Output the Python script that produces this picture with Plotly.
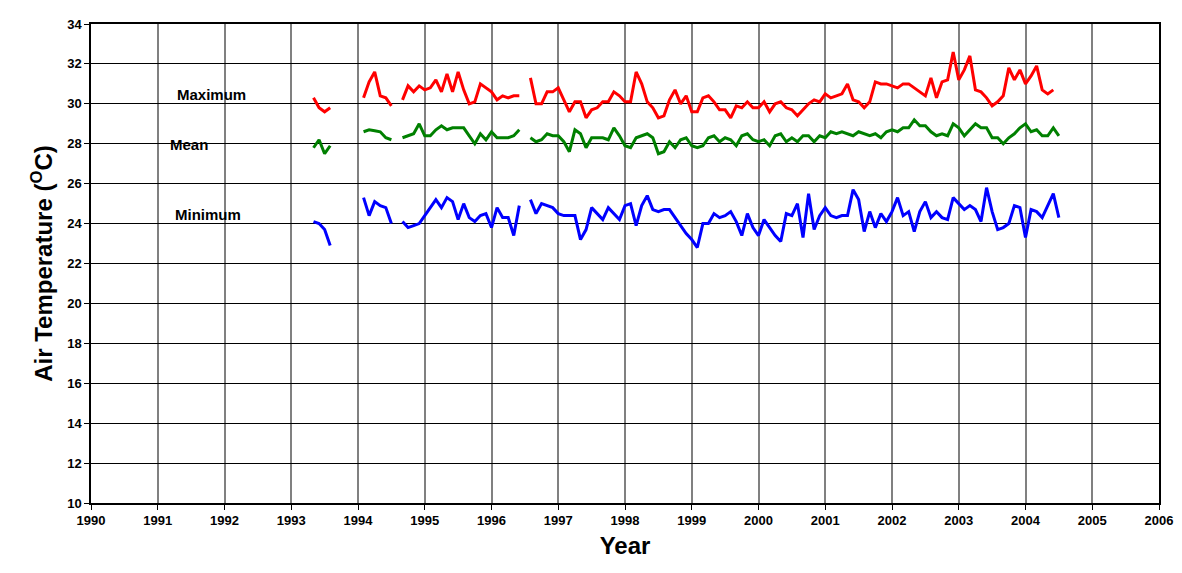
import plotly.graph_objects as go

# monthly segments: (start year, start month, values)
max_segments = [
    (1993, 5, [30.3, 29.8, 29.6, 29.8]),
    (1994, 2, [30.3, 31.1, 31.6, 30.4, 30.3, 29.9]),
    (1994, 9, [30.2, 30.9, 30.6, 30.9, 30.7, 30.8, 31.2, 30.6, 31.5, 30.6, 31.6, 30.7,
               30.0, 30.1, 31.0, 30.8, 30.6, 30.2, 30.4, 30.3, 30.4, 30.4]),
    (1996, 8, [31.3, 30.0, 30.0, 30.6, 30.6, 30.8, 30.2, 29.6, 30.1, 30.1, 29.3, 29.7,
               29.8, 30.1, 30.1, 30.6, 30.4, 30.1, 30.1, 31.6, 31.0, 30.1, 29.8, 29.3,
               29.4, 30.2, 30.7, 30.0, 30.4, 29.6, 29.6, 30.3, 30.4, 30.1, 29.7, 29.7,
               29.3, 29.9, 29.8, 30.1, 29.8, 29.8, 30.1, 29.6, 30.0, 30.1, 29.8, 29.7,
               29.4, 29.7, 30.0, 30.2, 30.1, 30.5, 30.3, 30.4, 30.5, 31.0, 30.2, 30.1,
               29.8, 30.1, 31.1, 31.0, 31.0, 30.9, 30.8, 31.0, 31.0, 30.8, 30.6, 30.4,
               31.3, 30.3, 31.1, 31.2, 32.6, 31.2, 31.7, 32.4, 30.7, 30.6, 30.3, 29.9,
               30.1, 30.4, 31.8, 31.2, 31.7, 31.0, 31.4, 31.9, 30.7, 30.5, 30.7]),
]
mean_segments = [
    (1993, 5, [27.8, 28.2, 27.5, 27.9]),
    (1994, 2, [28.6, 28.7, 28.65, 28.6, 28.3, 28.2]),
    (1994, 9, [28.3, 28.4, 28.5, 29.0, 28.4, 28.4, 28.7, 28.9, 28.7, 28.8, 28.8, 28.8,
               28.4, 28.0, 28.5, 28.2, 28.6, 28.3, 28.3, 28.3, 28.4, 28.7]),
    (1996, 8, [28.3, 28.1, 28.2, 28.5, 28.4, 28.4, 28.1, 27.6, 28.7, 28.5, 27.8, 28.3,
               28.3, 28.3, 28.2, 28.8, 28.4, 27.9, 27.8, 28.3, 28.4, 28.5, 28.3, 27.5,
               27.6, 28.1, 27.8, 28.2, 28.3, 27.9, 27.8, 27.9, 28.3, 28.4, 28.1, 28.3,
               28.2, 27.9, 28.4, 28.5, 28.2, 28.1, 28.2, 27.9, 28.4, 28.5, 28.1, 28.3,
               28.1, 28.4, 28.4, 28.1, 28.4, 28.3, 28.6, 28.5, 28.6, 28.5, 28.4, 28.6,
               28.5, 28.4, 28.5, 28.3, 28.6, 28.7, 28.6, 28.8, 28.8, 29.2, 28.9, 28.9,
               28.6, 28.4, 28.5, 28.4, 29.0, 28.8, 28.4, 28.7, 29.0, 28.8, 28.8, 28.3,
               28.3, 28.0, 28.3, 28.5, 28.8, 29.0, 28.6, 28.7, 28.4, 28.4, 28.8, 28.4]),
]
min_segments = [
    (1993, 5, [24.1, 24.0, 23.7, 22.9]),
    (1994, 2, [25.3, 24.4, 25.1, 24.9, 24.8, 24.0]),
    (1994, 9, [24.1, 23.8, 23.9, 24.0, 24.4, 24.8, 25.2, 24.8, 25.3, 25.1, 24.2, 25.0,
               24.3, 24.1, 24.4, 24.5, 23.8, 24.8, 24.3, 24.3, 23.4, 24.9]),
    (1996, 8, [25.2, 24.5, 25.0, 24.9, 24.8, 24.5, 24.4, 24.4, 24.4, 23.2, 23.7, 24.8,
               24.5, 24.2, 24.8, 24.5, 24.2, 24.9, 25.0, 23.9, 24.9, 25.4, 24.7, 24.6,
               24.7, 24.7, 24.3, 23.9, 23.5, 23.2, 22.8, 24.0, 24.0, 24.5, 24.3, 24.4,
               24.6, 24.1, 23.4, 24.5, 23.8, 23.4, 24.2, 23.8, 23.4, 23.1, 24.5, 24.4,
               25.0, 23.3, 25.5, 23.7, 24.4, 24.8, 24.4, 24.3, 24.4, 24.4, 25.7, 25.2,
               23.6, 24.6, 23.8, 24.5, 24.1, 24.6, 25.3, 24.4, 24.6, 23.6, 24.6, 25.1,
               24.3, 24.6, 24.3, 24.2, 25.3, 25.0, 24.7, 24.9, 24.7, 24.1, 25.8, 24.6,
               23.7, 23.8, 24.0, 24.9, 24.8, 23.3, 24.7, 24.6, 24.3, 24.9, 25.5, 24.3]),
]

series_labels = ["Maximum", "Mean", "Minimum"]


def build(segments):
    xs, ys = [], []
    for year, month, vals in segments:
        for i, v in enumerate(vals):
            xs.append(year + (month - 1 + i) / 12)
            ys.append(v)
        xs.append(None)
        ys.append(None)
    return xs, ys


fig = go.Figure()
for segs, color in [(max_segments, "#ff0000"), (mean_segments, "#008000"), (min_segments, "#0000ff")]:
    x, y = build(segs)
    fig.add_trace(go.Scatter(x=x, y=y, mode="lines", line=dict(color=color, width=3),
                             connectgaps=False, showlegend=False))

for text, x, y in zip(series_labels, [1991.8, 1991.47, 1991.75], [30.45, 27.95, 24.45]):
    fig.add_annotation(x=x, y=y, text="<b>" + text + "</b>", showarrow=False,
                       font=dict(size=15, color="black"))

fig.update_layout(
    width=1182, height=573,
    margin=dict(l=83, r=31, t=9, b=78),
    plot_bgcolor="white", paper_bgcolor="white",
    font=dict(family="Arial, Liberation Sans", color="black"),
)
fig.update_xaxes(range=[1990, 2006], dtick=1, tick0=1990, showgrid=True, gridcolor="#808080",
                 gridwidth=1.5, showline=True, linecolor="black", linewidth=1.5, mirror=True,
                 ticks="outside", ticklen=5, tickcolor="black", zeroline=False,
                 tickfont=dict(size=13, weight="bold"),
                 title=dict(text="<b>Year</b>", font=dict(size=24), standoff=10))
fig.update_yaxes(range=[10, 34], dtick=2, showgrid=True, gridcolor="black", gridwidth=1,
                 showline=True, linecolor="black", linewidth=1.5, mirror=True,
                 ticks="outside", ticklen=5, tickcolor="black", zeroline=False,
                 tickfont=dict(size=13, weight="bold"),
                 title=dict(text="<b>Air Temperature (<sup>O</sup>C)</b>", font=dict(size=24), standoff=8))

fig.write_html("out.html")
